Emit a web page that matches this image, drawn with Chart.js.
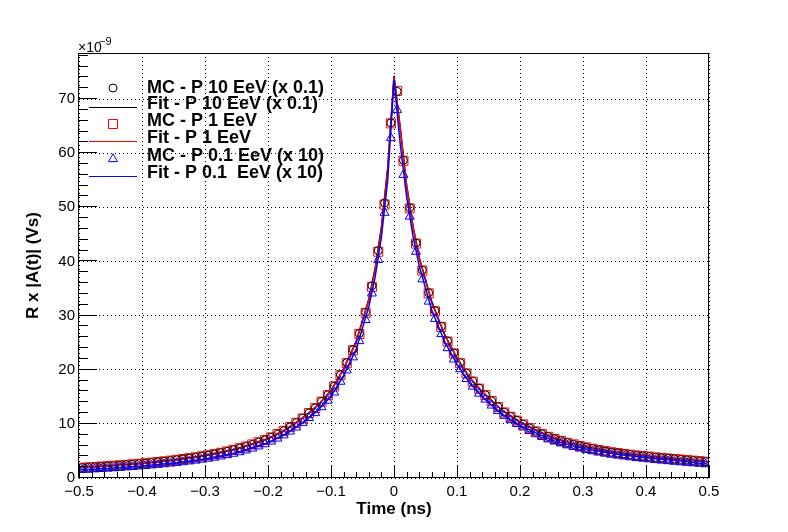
<!DOCTYPE html>
<html>
<head>
<meta charset="utf-8">
<script src="https://cdn.jsdelivr.net/npm/chart.js@4.4.0/dist/chart.umd.min.js"></script>
<style>
html, body { margin: 0; padding: 0; background: #fff; }
</style>
</head>
<body>
<canvas id="myChart" width="788" height="532"></canvas>
<script>
// centros de bin (ns)
const mcTime = [
  -0.495, -0.485, -0.475, -0.465, -0.455, -0.445, -0.435, -0.425, -0.415, -0.405,
  -0.395, -0.385, -0.375, -0.365, -0.355, -0.345, -0.335, -0.325, -0.315, -0.305,
  -0.295, -0.285, -0.275, -0.265, -0.255, -0.245, -0.235, -0.225, -0.215, -0.205,
  -0.195, -0.185, -0.175, -0.165, -0.155, -0.145, -0.135, -0.125, -0.115, -0.105,
  -0.095, -0.085, -0.075, -0.065, -0.055, -0.045, -0.035, -0.025, -0.015, -0.005,
  0.005, 0.015, 0.025, 0.035, 0.045, 0.055, 0.065, 0.075, 0.085, 0.095,
  0.105, 0.115, 0.125, 0.135, 0.145, 0.155, 0.165, 0.175, 0.185, 0.195,
  0.205, 0.215, 0.225, 0.235, 0.245, 0.255, 0.265, 0.275, 0.285, 0.295,
  0.305, 0.315, 0.325, 0.335, 0.345, 0.355, 0.365, 0.375, 0.385, 0.395,
  0.405, 0.415, 0.425, 0.435, 0.445, 0.455, 0.465, 0.475, 0.485, 0.495
];
// MC (x 1e-9 Vs)
const mcP10 = [
  1.92, 1.97, 2.04, 2.11, 2.19, 2.27, 2.35, 2.44, 2.53, 2.63,
  2.73, 2.84, 2.96, 3.08, 3.21, 3.36, 3.5, 3.66, 3.82, 4.01,
  4.21, 4.42, 4.66, 4.92, 5.21, 5.51, 5.82, 6.2, 6.62, 7.02,
  7.52, 8.1, 8.72, 9.42, 10.22, 11.05, 12.0, 12.95, 14.15, 15.35,
  16.95, 19.05, 21.3, 23.7, 26.7, 30.6, 35.5, 42.0, 50.8, 65.6,
  71.4, 58.7, 49.9, 43.4, 38.4, 34.2, 30.9, 28.0, 25.3, 23.1,
  21.3, 19.4, 17.9, 16.6, 15.35, 14.25, 13.15, 12.15, 11.35, 10.65,
  9.95, 9.25, 8.65, 8.15, 7.65, 7.25, 6.88, 6.53, 6.22, 5.93,
  5.67, 5.42, 5.17, 4.97, 4.77, 4.62, 4.47, 4.32, 4.17, 4.06,
  3.96, 3.82, 3.72, 3.62, 3.52, 3.42, 3.32, 3.22, 3.12, 3.02
];
const mcP1 = [
  1.9, 1.96, 2.03, 2.1, 2.18, 2.26, 2.34, 2.43, 2.52, 2.62,
  2.72, 2.83, 2.95, 3.07, 3.2, 3.35, 3.5, 3.65, 3.8, 4.0,
  4.2, 4.4, 4.65, 4.9, 5.2, 5.5, 5.8, 6.2, 6.6, 7.0,
  7.5, 8.1, 8.7, 9.4, 10.2, 11.0, 12.0, 12.9, 14.1, 15.3,
  16.9, 19.0, 21.2, 23.6, 26.6, 30.5, 35.3, 41.8, 50.5, 65.5,
  71.5, 58.6, 49.8, 43.3, 38.3, 34.1, 30.8, 27.9, 25.2, 23.0,
  21.2, 19.3, 17.8, 16.5, 15.3, 14.2, 13.1, 12.1, 11.3, 10.6,
  9.9, 9.2, 8.6, 8.1, 7.6, 7.2, 6.85, 6.5, 6.2, 5.9,
  5.65, 5.4, 5.15, 4.95, 4.75, 4.6, 4.45, 4.3, 4.15, 4.05,
  3.95, 3.8, 3.7, 3.6, 3.5, 3.4, 3.3, 3.2, 3.1, 3.0
];
const mcP01 = [
  1.5, 1.56, 1.62, 1.68, 1.75, 1.82, 1.9, 1.98, 2.06, 2.15,
  2.24, 2.34, 2.45, 2.56, 2.68, 2.8, 2.94, 3.08, 3.23, 3.4,
  3.58, 3.78, 4.0, 4.24, 4.5, 4.78, 5.1, 5.45, 5.85, 6.25,
  6.75, 7.3, 7.9, 8.6, 9.35, 10.2, 11.1, 12.0, 13.1, 14.3,
  15.8, 17.8, 19.9, 22.3, 25.3, 29.2, 34.1, 40.3, 49.0, 62.8,
  68.0, 56.0, 48.3, 41.8, 36.7, 32.6, 29.4, 26.6, 24.0, 21.9,
  20.1, 18.3, 16.9, 15.6, 14.5, 13.4, 12.4, 11.5, 10.7, 10.0,
  9.35, 8.7, 8.1, 7.6, 7.15, 6.75, 6.4, 6.05, 5.75, 5.45,
  5.2, 4.95, 4.72, 4.52, 4.33, 4.16, 4.0, 3.85, 3.71, 3.58,
  3.46, 3.34, 3.23, 3.12, 3.02, 2.92, 2.82, 2.73, 2.64, 2.56
];
// curvas de ajuste
const fitTime = [-0.5, -0.45, -0.4, -0.35, -0.3, -0.25, -0.2, -0.17, -0.14, -0.12, -0.1, -0.08, -0.06, -0.04, -0.03, -0.02, -0.01, 0,
  0.01, 0.02, 0.03, 0.04, 0.06, 0.08, 0.1, 0.12, 0.14, 0.17, 0.2, 0.25, 0.3, 0.35, 0.4, 0.45, 0.5];
const fitP10 = [1.89, 2.24, 2.69, 3.29, 4.12, 5.37, 7.28, 9.08, 11.55, 13.55, 16.15, 20.2, 25.2, 33.0, 38.7, 46.3, 57.3, 74.3,
  64.6, 54.1, 46.6, 40.8, 32.5, 26.6, 22.2, 18.6, 15.95, 12.65, 10.3, 7.43, 5.8, 4.7, 4.02, 3.47, 2.97];
const fitP1 = [1.87, 2.22, 2.67, 3.27, 4.1, 5.35, 7.25, 9.05, 11.5, 13.5, 16.1, 20.1, 25.1, 32.8, 38.5, 46.0, 57.0, 74.0,
  64.5, 54.0, 46.5, 40.7, 32.4, 26.5, 22.1, 18.5, 15.9, 12.6, 10.25, 7.4, 5.78, 4.68, 4.0, 3.45, 2.95];
const fitP01 = [1.47, 1.79, 2.2, 2.75, 3.5, 4.65, 6.5, 8.25, 10.6, 12.6, 15.1, 18.9, 23.8, 31.6, 37.1, 44.5, 55.0, 73.5,
  61.5, 52.0, 44.8, 39.2, 31.0, 25.3, 21.0, 17.6, 15.0, 11.95, 9.7, 7.0, 5.45, 4.42, 3.75, 3.17, 2.52];

const xTicks = [-0.5, -0.4, -0.3, -0.2, -0.1, 0, 0.1, 0.2, 0.3, 0.4, 0.5];
const yTicks = [0, 10, 20, 30, 40, 50, 60, 70];
const legendLabels = ['MC - P 10 EeV (x 0.1)', 'Fit - P 10 EeV (x 0.1)', 'MC - P 1 EeV', 'Fit - P 1 EeV',
  'MC - P 0.1 EeV (x 10)', 'Fit - P 0.1  EeV (x 10)'];

const FUENTE = '"Liberation Sans", Arial, sans-serif';

function puntos(xs, ys) {
  return xs.map((x, i) => ({ x: x, y: ys[i] }));
}

function marcador(ctx, tipo, color, x, y) {
  ctx.strokeStyle = color;
  ctx.lineWidth = 1;
  ctx.beginPath();
  if (tipo === 'circle') {
    ctx.arc(x, y, 4, 0, Math.PI * 2);
  } else if (tipo === 'rect') {
    ctx.rect(x - 4.5, y - 4.5, 9, 9);
  } else if (tipo === 'triangle') {
    ctx.moveTo(x, y - 5.2);
    ctx.lineTo(x + 4.5, y + 2.6);
    ctx.lineTo(x - 4.5, y + 2.6);
    ctx.closePath();
  } else {
    ctx.moveTo(89, y);
    ctx.lineTo(137, y);
  }
  ctx.stroke();
}

// ticks hacia dentro, marco, leyenda y exponente al estilo ROOT
const marcoRoot = {
  id: 'marcoRoot',
  afterDatasetsDraw(chart) {
    const ctx = chart.ctx;
    const a = chart.chartArea;
    const sx = chart.scales.x;
    const sy = chart.scales.y;
    ctx.save();
    ctx.strokeStyle = '#000';
    ctx.lineWidth = 1;
    ctx.beginPath();
    for (let k = 0; k <= 50; k++) {
      const px = Math.round(sx.getPixelForValue(-0.5 + k * 0.02)) + 0.5;
      const len = k % 5 === 0 ? 12 : 6;
      ctx.moveTo(px, a.bottom);
      ctx.lineTo(px, a.bottom - len);
    }
    for (let k = 0; k * 2 <= sy.max; k++) {
      const py = Math.round(sy.getPixelForValue(k * 2)) - 0.5;
      const len = k % 5 === 0 ? 18 : 9;
      ctx.moveTo(a.left, py);
      ctx.lineTo(a.left + len, py);
    }
    ctx.stroke();
    ctx.strokeRect(Math.round(a.left) - 0.5, Math.round(a.top) + 0.5,
      Math.round(a.right - a.left), Math.round(a.bottom - a.top) - 1);

    // exponente
    ctx.fillStyle = '#000';
    ctx.textBaseline = 'alphabetic';
    ctx.textAlign = 'left';
    ctx.font = '14px ' + FUENTE;
    ctx.fillText('\u00d710', 78, 52);
    ctx.font = '11px ' + FUENTE;
    ctx.fillText('\u22129', 99, 45);

    // leyenda
    const tipos = ['circle', 'line', 'rect', 'line', 'triangle', 'line'];
    const colores = ['#000000', '#000000', '#ff0000', '#ff0000', '#0000ff', '#0000ff'];
    const yTexto = [88, 104, 121, 138, 156, 173];
    const ySimbolo = [88, 107.5, 124, 141.5, 159, 176.5];
    ctx.font = 'bold 18px ' + FUENTE;
    ctx.textBaseline = 'middle';
    for (let i = 0; i < legendLabels.length; i++) {
      marcador(ctx, tipos[i], colores[i], 113, ySimbolo[i]);
      ctx.fillStyle = '#000';
      ctx.fillText(legendLabels[i], 147, yTexto[i]);
    }
    ctx.restore();
  }
};

const canvas = document.getElementById('myChart');
const ctx = canvas.getContext('2d');
Chart.defaults.color = '#000';
Chart.defaults.font.family = FUENTE;

const myChart = new Chart(ctx, {
  type: 'scatter',
  data: {
    datasets: [
      {
        label: 'Fit - P 0.1  EeV (x 10)', data: puntos(fitTime, fitP01), showLine: true,
        borderColor: '#0000ff', borderWidth: 1.5, pointRadius: 0, order: 0
      },
      {
        label: 'MC - P 0.1 EeV (x 10)', data: puntos(mcTime, mcP01), pointStyle: 'triangle',
        pointRadius: 5.2, borderColor: '#0000ff', backgroundColor: 'rgba(0,0,0,0)', borderWidth: 1, order: 1
      },
      {
        label: 'MC - P 10 EeV (x 0.1)', data: puntos(mcTime, mcP10), pointStyle: 'circle',
        pointRadius: 4, borderColor: '#000000', backgroundColor: 'rgba(0,0,0,0)', borderWidth: 1, order: 2
      },
      {
        label: 'Fit - P 1 EeV', data: puntos(fitTime, fitP1), showLine: true,
        borderColor: '#ff0000', borderWidth: 1.5, pointRadius: 0, order: 3
      },
      {
        label: 'MC - P 1 EeV', data: puntos(mcTime, mcP1), pointStyle: 'rect',
        pointRadius: 6.4, borderColor: '#ff0000', backgroundColor: 'rgba(0,0,0,0)', borderWidth: 1, order: 4
      },
      {
        label: 'Fit - P 10 EeV (x 0.1)', data: puntos(fitTime, fitP10), showLine: true,
        borderColor: '#000000', borderWidth: 1.5, pointRadius: 0, order: 5
      }
    ]
  },
  options: {
    responsive: false,
    animation: false,
    events: [],
    layout: { padding: { left: 0, right: 79, top: 53, bottom: 0 } },
    plugins: {
      legend: { display: false },
      tooltip: { enabled: false }
    },
    scales: {
      x: {
        type: 'linear',
        min: -0.5,
        max: 0.5,
        afterBuildTicks: (s) => { s.ticks = xTicks.map(v => ({ value: v })); },
        afterFit: (s) => { s.height = 54; },
        grid: { color: '#000', lineWidth: 1, drawTicks: false },
        border: { display: false, dash: [1, 3] },
        ticks: {
          padding: 5,
          maxRotation: 0,
          autoSkip: false,
          font: { size: 15 },
          callback: (v) => Math.abs(v) < 1e-9 ? '0' : (v < 0 ? '\u2212' : '') + Math.abs(v).toFixed(1)
        },
        title: {
          display: true,
          text: 'Time (ns)',
          font: { size: 17, weight: 'bold' },
          padding: { top: 0, bottom: 12 }
        }
      },
      y: {
        type: 'linear',
        min: 0,
        max: 78.5,
        afterBuildTicks: (s) => { s.ticks = yTicks.map(v => ({ value: v })); },
        afterFit: (s) => { s.width = 79; },
        grid: { color: '#000', lineWidth: 1, drawTicks: false },
        border: { display: false, dash: [1, 3] },
        ticks: {
          padding: 4,
          autoSkip: false,
          font: { size: 15 },
          callback: (v) => String(v)
        },
        title: {
          display: true,
          text: 'R x |A(t)| (Vs)',
          font: { size: 17, weight: 'bold' },
          padding: { top: 23, bottom: 0 }
        }
      }
    }
  },
  plugins: [marcoRoot]
});
</script>
</body>
</html>
